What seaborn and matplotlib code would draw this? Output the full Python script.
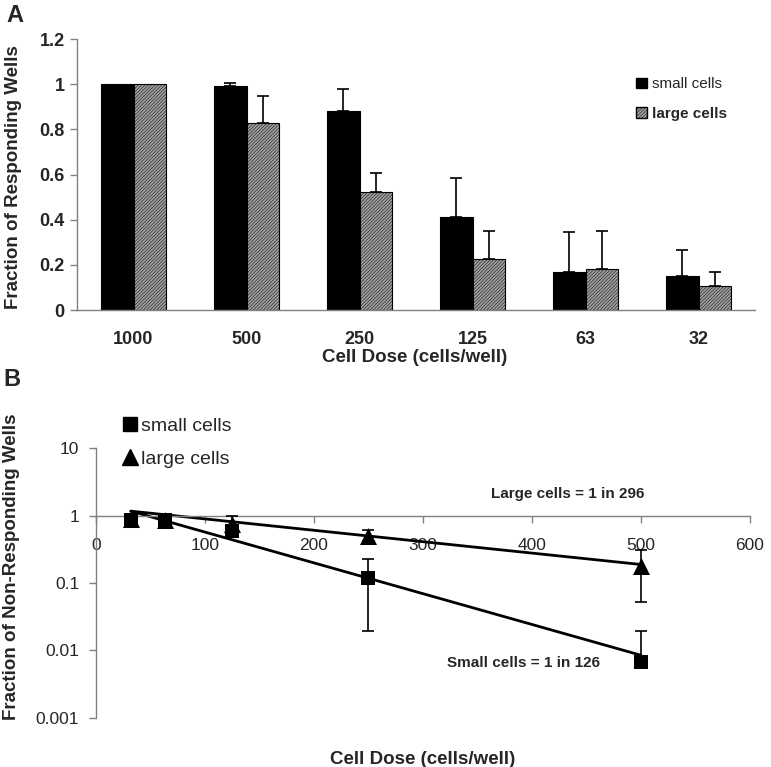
import numpy as np
import pandas as pd
import matplotlib
matplotlib.use('Agg')
import matplotlib.pyplot as plt
from matplotlib.patches import Patch
from matplotlib.lines import Line2D
import seaborn as sns

# Panel A data: fraction of responding wells per cell dose
doses = ['1000', '500', '250', '125', '63', '32']
small_frac = [1.0, 0.993, 0.883, 0.411, 0.170, 0.151]
large_frac = [1.0, 0.830, 0.523, 0.227, 0.183, 0.106]
small_err = [0.0, 0.012, 0.097, 0.173, 0.175, 0.116]
large_err = [0.0, 0.116, 0.084, 0.124, 0.168, 0.063]

# Panel B data: fraction of non-responding wells (log scale)
dose_b = [32, 63, 125, 250, 500]
small_nr = [0.85, 0.85, 0.59, 0.119, 0.0067]
small_lo = [0.85, 0.85, 0.59, 0.0193, 0.0067]
small_hi = [0.85, 0.85, 0.59, 0.223, 0.0193]
large_nr = [0.90, 0.85, 0.76, 0.49, 0.178]
large_lo = [0.90, 0.85, 0.62, 0.42, 0.052]
large_hi = [0.90, 1.03, 1.00, 0.60, 0.31]

# fitted lines
fit_x = [32, 500]
small_fit = [1.16, 0.0085]
large_fit = [1.16, 0.188]

sns.set_theme(style='white')
plt.rcParams['font.family'] = ['Liberation Sans', 'DejaVu Sans']
plt.rcParams['hatch.linewidth'] = 0.35
plt.rcParams['hatch.color'] = 'black'

fig = plt.figure(figsize=(7.71, 7.67), dpi=100)
axis_grey = '#808080'
large_grey = '#a0a0a0'
hatch = '//////////'

# ---------- Panel A ----------
axA = fig.add_axes([0.0999, 0.5958, 0.8794, 0.3533])
df_a = pd.DataFrame({
    'dose': doses * 2,
    'cells': ['small cells'] * 6 + ['large cells'] * 6,
    'frac': small_frac + large_frac,
})
sns.barplot(data=df_a, x='dose', y='frac', hue='cells', order=doses,
            hue_order=['small cells', 'large cells'],
            palette=['black', large_grey], width=0.58, saturation=1,
            edgecolor='black', linewidth=0.8, errorbar=None, legend=False, ax=axA)
for bar in axA.containers[1]:
    bar.set_hatch(hatch)

for cont, err in zip(axA.containers, [small_err, large_err]):
    xs = np.array([p.get_x() + p.get_width() / 2 for p in cont])
    hs = np.array([p.get_height() for p in cont])
    err = np.array(err)
    m = err > 0
    axA.errorbar(xs[m], hs[m], yerr=[np.zeros(m.sum()), err[m]], fmt='none',
                 ecolor='black', elinewidth=1.2, capsize=4, capthick=1.2)

axA.set_xlim(-0.5, 5.5)
axA.set_ylim(0, 1.2)
axA.set_yticks([0, 0.2, 0.4, 0.6, 0.8, 1.0, 1.2])
axA.set_yticklabels(['0', '0.2', '0.4', '0.6', '0.8', '1', '1.2'])
axA.set_xticks(np.arange(-0.5, 6, 1), minor=True)
axA.tick_params(axis='x', which='major', length=0, pad=15)
axA.tick_params(axis='x', which='minor', length=5, color=axis_grey, width=1, direction='out')
axA.tick_params(axis='y', length=5, color=axis_grey, width=1, direction='out', left=True, pad=4)
for lab in axA.get_xticklabels() + axA.get_yticklabels():
    lab.set_fontweight('bold')
    lab.set_fontsize(13)
for s in ['top', 'right']:
    axA.spines[s].set_visible(False)
for s in ['left', 'bottom']:
    axA.spines[s].set_color(axis_grey)
    axA.spines[s].set_linewidth(1)
axA.set_ylabel('Fraction of Responding Wells', fontsize=13.5, fontweight='bold')
axA.yaxis.set_label_coords(-0.081, 0.49)
axA.set_xlabel('')
fig.text(415 / 771, 1 - 358 / 767, 'Cell Dose (cells/well)', ha='center', va='center',
         fontsize=13.5, fontweight='bold')

handles_a = [Patch(facecolor='black', edgecolor='black'),
             Patch(facecolor=large_grey, edgecolor='black', hatch=hatch)]
legA = axA.legend(handles_a, ['small cells', 'large cells'], loc='upper left',
                  bbox_to_anchor=(0.825, 0.899), bbox_transform=fig.transFigure,
                  frameon=False, fontsize=11, handlelength=0.7, handleheight=0.7,
                  handletextpad=0.35, labelspacing=1.0, borderpad=0, borderaxespad=0)
legA.get_texts()[1].set_fontweight('bold')

# ---------- Panel B ----------
axB = fig.add_axes([0.1245, 0.0639, 0.8482, 0.3520])
axB.set_yscale('log')
sns.lineplot(x=fit_x, y=small_fit, color='black', linewidth=2, ax=axB)
sns.lineplot(x=fit_x, y=large_fit, color='black', linewidth=2, ax=axB)

for y, lo, hi in [(small_nr, small_lo, small_hi), (large_nr, large_lo, large_hi)]:
    y = np.array(y)
    axB.errorbar(dose_b, y, yerr=[y - np.array(lo), np.array(hi) - y], fmt='none',
                 ecolor='black', elinewidth=1.2, capsize=4, capthick=1.2, zorder=3)

sns.scatterplot(x=dose_b, y=small_nr, marker='s', s=90, color='black',
                edgecolor='black', linewidth=0, ax=axB, zorder=4)
sns.scatterplot(x=dose_b, y=large_nr, marker='^', s=150, color='black',
                edgecolor='black', linewidth=0, ax=axB, zorder=4)

axB.set_xlim(0, 600)
axB.set_ylim(0.001, 10)
axB.set_xticks([0, 100, 200, 300, 400, 500, 600])
axB.set_xticklabels(['0', '100', '200', '300', '400', '500', '600'])
axB.set_yticks([0.001, 0.01, 0.1, 1, 10])
axB.set_yticklabels(['0.001', '0.01', '0.1', '1', '10'])
axB.minorticks_off()
axB.spines['bottom'].set_position(('data', 1))
for s in ['top', 'right']:
    axB.spines[s].set_visible(False)
for s in ['left', 'bottom']:
    axB.spines[s].set_color(axis_grey)
    axB.spines[s].set_linewidth(1)
axB.tick_params(axis='x', length=5, color=axis_grey, width=1, direction='out',
                bottom=True, pad=11, labelsize=12.5)
axB.tick_params(axis='y', length=5, color=axis_grey, width=1, direction='out',
                left=True, pad=7, labelsize=12.5)
axB.set_ylabel('Fraction of Non-Responding Wells', fontsize=13.5, fontweight='bold')
axB.yaxis.set_label_coords(-0.116, 0.56)
axB.set_xlabel('')
fig.text(423 / 771, 1 - 760 / 767, 'Cell Dose (cells/well)', ha='center', va='center',
         fontsize=13.5, fontweight='bold')

axB.text(433, 2.1, 'Large cells = 1 in 296', ha='center', va='center',
         fontsize=11, fontweight='bold')
axB.text(392, 0.0066, 'Small cells = 1 in 126', ha='center', va='center',
         fontsize=11, fontweight='bold')

handles_b = [Line2D([], [], marker='s', ls='none', color='black', markersize=10),
             Line2D([], [], marker='^', ls='none', color='black', markersize=12)]
axB.legend(handles_b, ['small cells', 'large cells'], loc='upper left',
           bbox_to_anchor=(0.161, 0.456), bbox_transform=fig.transFigure,
           frameon=False, fontsize=14, handlelength=0.6, handletextpad=0.25,
           labelspacing=0.8, borderpad=0, borderaxespad=0)

fig.text(0.0195, 0.980, 'A', ha='center', va='center', fontsize=17, fontweight='bold')
fig.text(0.0156, 0.5046, 'B', ha='center', va='center', fontsize=17, fontweight='bold')

fig.savefig('out.png', dpi=100)
